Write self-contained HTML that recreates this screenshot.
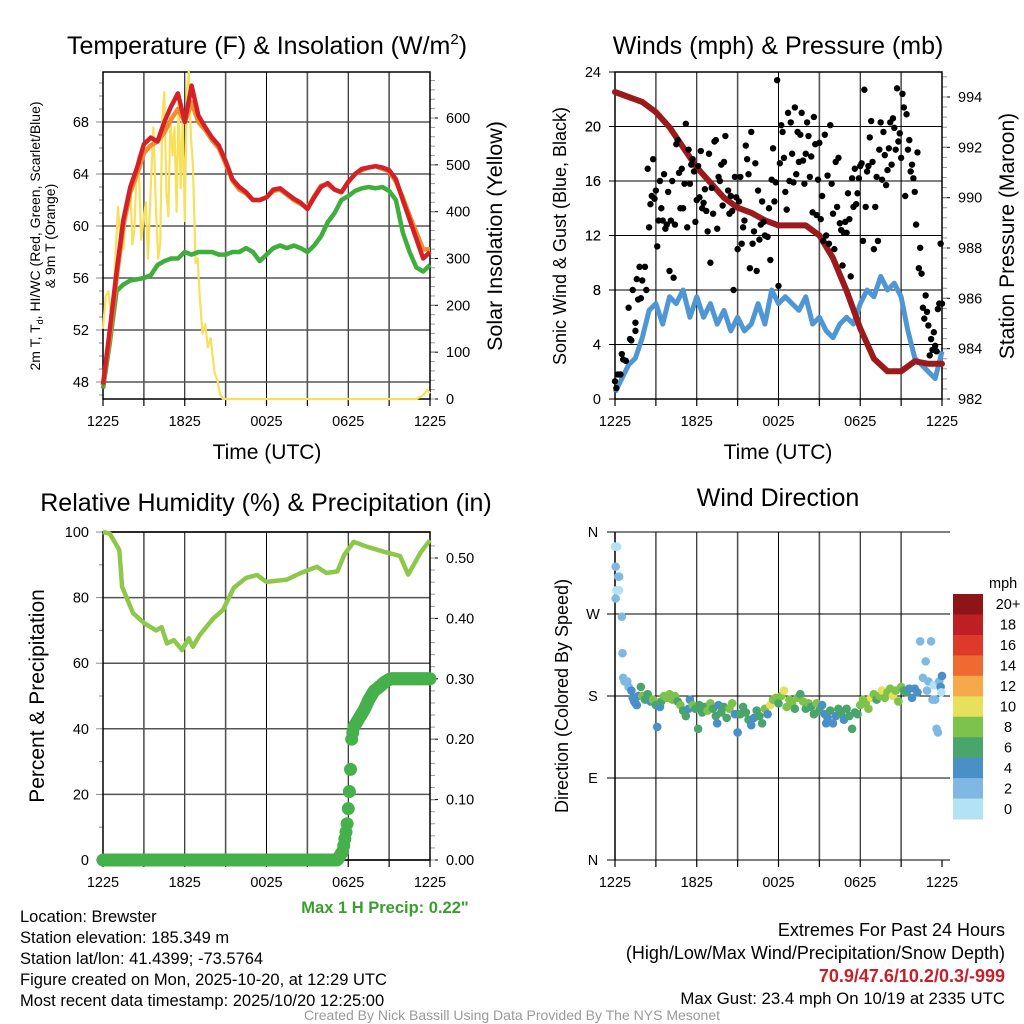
<!DOCTYPE html>
<html><head><meta charset="utf-8">
<style>
html,body{margin:0;padding:0;background:#fff;}
svg{display:block;font-family:"Liberation Sans",sans-serif;}
</style></head>
<body>
<svg id="c" width="1024" height="1024" viewBox="0 0 1024 1024" xmlns="http://www.w3.org/2000/svg">
<rect width="1024" height="1024" fill="#fff"/>
<text x="267" y="54" font-size="25" text-anchor="middle">Temperature (F) &amp; Insolation (W/m<tspan font-size="15" dy="-10">2</tspan><tspan dy="10">)</tspan></text>
<text x="778" y="54" font-size="25" text-anchor="middle">Winds (mph) &amp; Pressure (mb)</text>
<text x="266" y="511" font-size="25" text-anchor="middle">Relative Humidity (%) &amp; Precipitation (in)</text>
<text x="778" y="506" font-size="25" text-anchor="middle">Wind Direction</text>
<text x="267" y="459" font-size="21" text-anchor="middle">Time (UTC)</text>
<text x="778" y="459" font-size="21" text-anchor="middle">Time (UTC)</text>
<text transform="translate(40,236) rotate(-90)" font-size="14" text-anchor="middle">2m T, T<tspan font-size="9" dy="3">d</tspan><tspan dy="-3">, HI/WC (Red, Green, Scarlet/Blue)</tspan></text>
<text transform="translate(55,236) rotate(-90)" font-size="14" text-anchor="middle">&amp; 9m T (Orange)</text>
<text transform="translate(502,236) rotate(-90)" font-size="21.5" text-anchor="middle">Solar Insolation (Yellow)</text>
<text transform="translate(566,236) rotate(-90)" font-size="18" text-anchor="middle">Sonic Wind &amp; Gust (Blue, Black)</text>
<text transform="translate(1014,236) rotate(-90)" font-size="21" text-anchor="middle">Station Pressure (Maroon)</text>
<text transform="translate(44,696) rotate(-90)" font-size="21" text-anchor="middle">Percent &amp; Precipitation</text>
<text transform="translate(568,696) rotate(-90)" font-size="18" text-anchor="middle">Direction (Colored By Speed)</text>
<text x="385" y="913" font-size="16.5" font-weight="bold" fill="#3a9e2e" text-anchor="middle">Max 1 H Precip: 0.22"</text>
<g font-size="16.5">
<text x="20" y="922">Location: Brewster</text>
<text x="20" y="943">Station elevation: 185.349 m</text>
<text x="20" y="964">Station lat/lon: 41.4399; -73.5764</text>
<text x="20" y="985">Figure created on Mon, 2025-10-20, at 12:29 UTC</text>
<text x="20" y="1006">Most recent data timestamp: 2025/10/20 12:25:00</text>
</g>
<g font-size="18" text-anchor="end">
<text x="1005" y="936">Extremes For Past 24 Hours</text>
<text x="1005" y="959">(High/Low/Max Wind/Precipitation/Snow Depth)</text>
<text x="1005" y="982" fill="#c8202a" font-weight="bold">70.9/47.6/10.2/0.3/-999</text>
<text x="1005" y="1004" font-size="16.8">Max Gust: 23.4 mph On 10/19 at 2335 UTC</text>
</g>
<text x="512" y="1020" font-size="14" fill="#999" text-anchor="middle">Created By Nick Bassill Using Data Provided By The NYS Mesonet</text>
</svg>
<script>
// ---------- DATA ----------
const xTickLabels=["1225","1825","0025","0625","1225"];
const hourTimes=[0,0.5,1,1.5,2,2.5,3,3.5,4,4.5,5,5.5,6,6.5,7,7.5,8,8.5,9,9.5,10,10.5,11,11.5,12,12.5,13,13.5,14,14.5,15,15.5,16,16.5,17,17.5,18,18.5,19,19.5,20,20.5,21,21.5,22,22.5,23,23.5,24];
const temp2m=[47.8,52,56.5,60.5,63,64.5,66.3,66.8,66.5,68,69.2,70.2,68,70.8,68.5,67.6,66.8,66.2,65,63.6,63,62.6,62,62,62.2,62.8,62.9,62.5,62.1,61.8,61.3,62.2,63,63.3,62.8,62.6,63.4,64,64.4,64.5,64.6,64.5,64.3,63.6,62,60.5,59,57.5,58];
const temp9m=[47.8,51.5,56,60,62.6,64,65.6,66.2,66.5,67.2,68.2,69,68,69.5,68,67.4,66.6,66,64.8,63.5,62.8,62.5,62,62,62.2,62.7,62.8,62.4,62,61.7,61.4,62.3,63.1,63.2,62.8,62.6,63.4,64,64.3,64.5,64.6,64.4,64.2,63.4,62.2,60.8,59.5,58.2,58.2];
const dewpt=[47.5,51,55,55.5,55.8,55.9,56,56.2,57,57.3,57.5,57.5,58,57.8,58,58,58,57.8,57.8,58,58,58.3,58,57.3,57.8,58.3,58.5,58.3,58.5,58.3,58,58.5,59.2,60.3,61,62,62.3,62.7,62.9,63,62.9,63,62.7,62,59.5,58,56.8,56.5,57];
const insolTimes=[0,0.2,0.4,0.6,0.75,0.9,1.1,1.3,1.5,1.7,2,2.15,2.3,2.45,2.6,2.8,3,3.15,3.3,3.5,3.7,3.9,4.05,4.2,4.35,4.5,4.65,4.8,4.95,5.1,5.25,5.4,5.55,5.7,5.85,6,6.15,6.3,6.45,6.6,6.8,6.95,7.1,7.3,7.5,7.7,7.9,8.05,8.2,8.4,8.6,8.8,9,12,18,22.5,23,23.5,23.8,24];
const insolVals=[150,220,230,170,190,300,410,330,320,420,460,330,360,480,520,340,390,420,300,450,580,400,300,330,600,655,440,390,600,520,580,400,640,450,600,380,660,700,560,500,290,300,220,140,160,110,130,90,55,40,10,0,0,0,0,0,0,8,20,12];
const windTimes=hourTimes;
const windSpd=[0.5,1.5,2.5,3,4.5,6.5,7,5.5,7.5,7,8,6,7.5,6,7,5.5,6.5,5,6,5,5.5,7,5.5,8,7,7.5,7,6.5,7.5,5.5,6,5,4.5,5.5,6,5.5,7,8,7.5,9,8,8.5,7.5,5,3,2.5,2,1.5,3.5];
const presTimes=[0,1,2,3,4,5,6,7,8,9,10,11,12,13,14,15,16,17,18,19,20,21,22,23,24];
const pressure=[994.2,994.0,993.8,993.4,992.8,992.0,991.2,990.6,990.0,989.6,989.4,989.1,988.9,988.9,988.9,988.5,987.6,986.3,984.8,983.6,983.1,983.1,983.5,983.4,983.4];
const gustTimes=[0,0.1,0.2,0.4,0.5,0.6,0.8,1.0,1.1,1.2,1.3,1.5,1.5,1.6,1.7,1.8,1.9,2.0,2.2,2.3,2.4,2.5,2.6,2.7,2.8,2.9,3.0,3.1,3.2,3.3,3.4,3.5,3.6,3.7,3.8,3.9,4.0,4.1,4.2,4.3,4.4,4.5,4.6,4.7,4.8,4.9,5.0,5.1,5.2,5.3,5.4,5.5,5.6,5.7,5.8,5.9,6.0,6.1,6.2,6.3,6.4,6.5,6.6,6.7,6.8,6.9,7.0,7.1,7.2,7.3,7.4,7.5,7.6,7.7,7.8,7.9,8.0,8.1,8.3,8.4,8.5,8.6,8.7,8.8,8.9,9.0,9.1,9.2,9.3,9.4,9.5,9.6,9.7,9.8,9.9,10.0,10.1,10.2,10.3,10.4,10.5,10.6,10.7,10.8,10.9,11.0,11.2,11.3,11.4,11.5,11.6,11.7,11.8,11.9,12.0,12.1,12.2,12.3,12.4,12.5,12.6,12.7,12.8,12.9,13.0,13.1,13.2,13.3,13.4,13.5,13.6,13.7,13.8,13.9,14.0,14.1,14.2,14.3,14.4,14.5,14.6,14.7,14.8,14.9,15.0,15.1,15.2,15.3,15.4,15.5,15.6,15.7,15.8,15.9,16.0,16.1,16.2,16.3,16.4,16.5,16.6,16.7,16.8,16.9,17.0,17.1,17.2,17.3,17.4,17.5,17.6,17.7,17.8,17.9,18.0,18.1,18.2,18.3,18.4,18.5,18.6,18.7,18.8,18.9,19.0,19.1,19.2,19.3,19.4,19.5,19.6,19.7,19.8,19.9,20.0,20.1,20.2,20.3,20.4,20.5,20.6,20.7,20.8,20.9,21.0,21.1,21.2,21.3,21.4,21.5,21.6,21.7,21.8,21.9,22.0,22.1,22.2,22.3,22.4,22.5,22.6,22.7,22.8,22.9,23.0,23.1,23.2,23.3,23.4,23.5,23.6,23.7,23.8,23.9,24.0];
const gustVals=[1.3,0.8,1.8,1.8,3.3,2.9,2.8,6.7,4.4,4.3,8.0,5.6,5.0,8.8,7.3,9.7,7.4,8.7,9.7,8.0,16.9,12.6,14.3,14.9,17.6,14.7,15.3,11.2,13.1,16.0,14.0,13.1,16.5,12.5,12.8,15.2,9.4,13.1,16.0,8.9,12.8,18.7,19.0,16.6,14.0,16.9,14.0,15.8,20.2,12.6,18.3,15.8,17.2,17.6,16.7,13.0,14.6,17.1,14.8,18.2,14.0,14.4,15.4,13.8,12.3,18.0,10.0,15.5,13.6,18.9,19.0,12.5,16.3,16.0,17.2,14.2,17.4,19.3,15.3,13.6,14.9,13.8,8.0,16.3,14.8,11.0,14.5,16.3,11.4,12.6,13.1,18.6,17.6,16.5,9.6,19.6,11.4,12.3,17.3,9.4,15.3,11.7,12.8,14.5,13.0,12.0,11.9,14.0,10.2,16.1,18.4,14.5,15.9,23.4,8.3,17.3,20.1,19.6,17.7,15.2,13.9,21.0,16.0,20.3,18.0,15.9,21.4,16.5,19.6,17.4,19.4,21.0,17.5,15.8,18.0,20.3,19.3,16.3,17.8,13.7,20.7,18.7,13.5,16.1,18.8,13.2,14.9,11.6,19.4,12.0,16.4,11.4,20.1,15.8,13.6,11.0,17.4,14.1,17.7,12.9,12.4,9.8,12.2,13.0,12.2,15.1,13.2,9.0,16.2,14.1,16.9,14.3,15.1,16.2,17.1,17.3,11.6,22.7,14.1,16.7,17.1,19.2,20.4,17.4,11.0,14.1,16.3,11.6,18.3,20.3,16.1,19.6,17.9,15.7,16.8,18.4,20.3,17.2,20.6,19.9,18.3,22.8,18.9,19.5,17.7,22.4,21.4,14.9,20.9,18.3,19.0,16.7,17.2,16.2,15.2,12.8,18.1,9.6,11.1,9.2,6.7,5.9,7.6,6.4,5.4,3.2,4.4,3.6,4.9,3.9,3.5,6.6,7.0,11.4,7.0];
const rhTimes=[0,0.5,1.2,1.4,2.2,3,3.9,4.3,4.7,5.2,5.8,6.3,6.6,7.1,8.1,8.8,9.6,10.5,11.3,12,13.5,14.5,15.7,16.4,17.2,17.7,18.4,19.4,20.6,21.8,22.4,23.3,23.9,24];
const rhVals=[100,99.5,94.5,83.3,75.3,72.3,70,71,66,67,64,67.6,65,68.6,73.7,76.2,83,86,86.9,84.8,85.5,87.5,89.4,87.5,88,93,97,95.5,94,92.7,87,93.7,97,96.5];
const precipTimes=[0,17.2,17.6,17.9,18.05,18.15,18.25,18.4,18.8,19.2,19.5,19.9,20.3,20.7,21.1,24];
const precipVals=[0,0,0.015,0.055,0.1,0.14,0.2,0.22,0.235,0.25,0.265,0.28,0.287,0.295,0.30,0.30];
const dirTimes=[0.0,0.15,0.05,0.25,0.3,0.1,0.3,0.05,0.5,0.55,0.6,0.7,0.9,1.0,1.2,1.3,1.5,1.6,1.4,1.7,1.9,2.0,2.2,2.4,2.6,2.8,3.0,3.1,3.3,3.4,3.6,3.8,4.0,4.2,4.4,4.6,4.8,5.0,5.2,5.4,5.5,5.7,5.9,6.1,6.2,6.4,6.6,6.8,7.0,7.2,7.4,7.5,7.6,7.8,8.0,8.2,8.4,8.6,8.8,9.0,9.2,9.4,9.6,9.8,10.0,10.2,10.4,10.6,10.8,11.0,11.2,11.4,11.6,11.8,12.0,12.2,12.4,12.6,12.8,13.0,13.2,13.4,13.6,13.8,14.0,14.2,14.4,14.6,14.8,15.0,15.2,15.4,15.5,15.6,15.8,16.0,16.2,16.4,16.6,16.8,17.0,17.2,17.4,17.6,17.8,18.0,18.2,18.4,18.6,18.8,19.0,19.2,19.4,19.6,19.8,20.0,20.2,20.4,20.6,20.8,21.0,21.2,21.4,21.6,21.8,22.0,22.2,22.4,22.6,22.8,22.9,23.0,23.2,23.3,23.4,23.5,23.6,23.7,23.8,23.9,24.0,23.95];
const dirDeg=[344,344,322,311,311,296,296,287,267,227,200,196,196,190,186,178,172,170,174,180,190,180,176,182,174,176,170,146,168,174,180,178,182,176,180,174,170,164,158,166,176,170,166,144,170,162,168,164,172,166,158,150,170,162,168,156,166,172,160,140,160,168,162,154,148,156,164,158,150,166,160,170,176,178,172,180,186,168,176,172,166,178,182,174,166,172,168,160,172,164,170,160,150,156,164,150,158,166,160,154,166,158,144,162,160,170,176,172,166,178,182,176,180,186,178,184,188,180,186,174,190,186,184,188,178,188,184,240,200,218,186,196,240,176,192,176,144,140,196,190,202,184];
const dirSpd=[1,1,2.5,3,3,1,1,2.5,3,3,3,3,2.5,2,5,4,5,5,4.5,4,7,8.5,7,6.5,5,8,7,4.5,4,6,8,9,8,8.5,8,7,8,6,6,5,5.5,8.5,7,6,7,7,7,8.5,8.5,6.5,6,4.5,5,7,7,6,8,8,5,4.5,7,6,7,6,4.5,5,7,7,6.5,8,5,10.5,8,8.5,7.5,9,10.5,8,8,8,7,8,6,8,7,8.5,7,6,8,7,4.5,5,4.5,5,6,4.5,5,6.5,7,5,7,6,6.5,7,7,8,8,9,8,10,8.5,7,8,11,8,8.5,9,10.5,9,8,8,6.5,7,4.5,5,4.5,4.5,3,3,3,2.5,2.5,3,3,1.5,3,3,3,2,4.5,4.5,1];
const speedBinLabels=["20+","18","16","14","12","10","8","6","4","2","0"];
const speedBinColors=["#8f1418","#be1e24","#dd3a2c","#ef6a30","#f5a94a","#e6e05a","#7dc24a","#4aa56c","#4a8fc7","#7fb9e3","#b3e2f5"];
const tempTicks=[48,52,56,60,64,68];
const insolTicks=[0,100,200,300,400,500,600];
const windTicks=[0,4,8,12,16,20,24];
const presTicks=[982,984,986,988,990,992,994];
const rhTicks=[0,20,40,60,80,100];
const precipTicks=["0.00","0.10","0.20","0.30","0.40","0.50"];
const dirTickLabels=["N","W","S","E","N"];
const dirTickVals=[360,270,180,90,0];

// ---------- HELPERS ----------
const NS="http://www.w3.org/2000/svg";
const svg=document.getElementById('c');
function mk(tag,attrs,parent){const e=document.createElementNS(NS,tag);for(const k in attrs)e.setAttribute(k,attrs[k]);(parent||svg).appendChild(e);return e;}
function lin(d0,d1,r0,r1){return v=>r0+(v-d0)*(r1-r0)/(d1-d0);}
function pathD(xs,ys,fx,fy){return xs.map((t,i)=>(i?'L':'M')+fx(t).toFixed(1)+','+fy(ys[i]).toFixed(1)).join(' ');}

function panel(name,x0,x1,y0,y1){
  const g=mk('g',{});
  
  
  const fx=lin(0,24,x0,x1);
  for(let h=3;h<24;h+=3){
    const l=mk('line',{x1:fx(h),x2:fx(h),y1:y0,y2:y1,stroke:h%6===0?'#000':'#555','stroke-width':h%6===0?1:1.6},g);
    
    
  }
  for(let h=0;h<=24;h+=3){mk('line',{x1:fx(h),x2:fx(h),y1:y1,y2:y1+7,stroke:'#000','stroke-width':1.2},g);}
  xTickLabels.forEach((s,i)=>{
    const t=mk('text',{x:fx(i*6),y:y1+27,'font-size':14.5,'text-anchor':'middle'},g);
    
    
    t.textContent=s;
  });
  return {g,fx};
}
function hgrid(g,vals,fy,x0,x1,side,labels,dark){
  vals.forEach((v,i)=>{
    const y=fy(v);
    mk('line',{x1:x0,x2:x1,y1:y,y2:y,stroke:dark?'#000':'#555','stroke-width':dark?1:1.5},g);
    const t=mk('text',{x:side==='l'?x0-14:x1+16,y:y+5,'font-size':14.5,'text-anchor':side==='l'?'end':'start'},g);
    
    
    t.textContent=labels?labels[i]:v;
  });
}
function frame(g,x0,x1,y0,y1){mk('rect',{x:x0,y:y0,width:x1-x0,height:y1-y0,fill:'none',stroke:'#000','stroke-width':1.5},g);}

// ---------- PANEL 1 ----------
(function(){
  const x0=103,x1=430,y0=72,y1=399;
  const {g,fx}=panel('temperature',x0,x1,y0,y1);
  const fy=lin(48,68,382,122);
  const fi=lin(0,600,399,118);
  hgrid(g,tempTicks,fy,x0,x1,'l',null,false);
  insolTicks.forEach(v=>{const y=fi(v);mk('line',{x1:x1,x2:x1+8,y1:y,y2:y,stroke:'#000'},g);const t=mk('text',{x:x1+16,y:y+5,'font-size':14.5},g);t.textContent=v;});
  for(let v=0;v<=700;v+=20){const y=fi(v);if(y<y0)break;mk('line',{x1:x1,x2:x1+5,y1:y,y2:y,stroke:'#999'},g);}
  for(let v=47;v<=72;v++){const y=fy(v);if(y<y0||y>y1)continue;mk('line',{x1:x0,x2:x0-(v%4===0?7:4),y1:y,y2:y,stroke:'#888'},g);}
  const yl=mk('path',{d:pathD(insolTimes,insolVals,fx,fi),fill:'none',stroke:'#f7e05a','stroke-width':2.2,'stroke-linejoin':'round'});
  
  const gl=mk('path',{d:pathD(hourTimes,dewpt,fx,fy),fill:'none',stroke:'#3fae3c','stroke-width':4.5,'stroke-linejoin':'round'});
  
  const ol=mk('path',{d:pathD(hourTimes,temp9m,fx,fy),fill:'none',stroke:'#f28a2e','stroke-width':4.5,'stroke-linejoin':'round'});
  
  const rl=mk('path',{d:pathD(hourTimes,temp2m,fx,fy),fill:'none',stroke:'#d42127','stroke-width':4.5,'stroke-linejoin':'round'});
  
  frame(g,x0,x1,y0,y1);
})();

// ---------- PANEL 2 ----------
(function(){
  const x0=615,x1=942,y0=72,y1=399;
  const {g,fx}=panel('winds',x0,x1,y0,y1);
  const fy=lin(0,24,399,72);
  const fp=lin(982,994,399,97);
  hgrid(g,windTicks.slice(1,6),fy,x0,x1,'l',null,true);
  windTicks.forEach(v=>{const t=mk('text',{x:x0-14,y:fy(v)+5,'font-size':14.5,'text-anchor':'end'},g);t.textContent=v;mk('line',{x1:x0,x2:x0-6,y1:fy(v),y2:fy(v),stroke:'#000'},g);});
  presTicks.forEach(v=>{const y=fp(v);mk('line',{x1:x1,x2:x1+8,y1:y,y2:y,stroke:'#000'},g);const t=mk('text',{x:x1+16,y:y+5,'font-size':14.5},g);t.textContent=v;});
  for(let v=982;v<=995;v+=0.4){const y=fp(v);if(y<y0)break;mk('line',{x1:x1,x2:x1+5,y1:y,y2:y,stroke:'#999'},g);}
  const bl=mk('path',{d:pathD(windTimes,windSpd,fx,fy),fill:'none',stroke:'#4f97d4','stroke-width':5,'stroke-linejoin':'round'});
  
  const pl=mk('path',{d:pathD(presTimes,pressure,fx,fp),fill:'none',stroke:'#9b1a1c','stroke-width':6,'stroke-linejoin':'round','stroke-linecap':'round'});
  
  gustTimes.forEach((t,i)=>{
    const c=mk('circle',{cx:fx(t),cy:fy(gustVals[i]),r:3.2,fill:'#000'});
    
    
  });
  frame(g,x0,x1,y0,y1);
})();

// ---------- PANEL 3 ----------
(function(){
  const x0=103,x1=430,y0=532,y1=860;
  const {g,fx}=panel('humidity',x0,x1,y0,y1);
  const fy=lin(0,100,860,532);
  const fp=lin(0,0.5,860,558);
  hgrid(g,rhTicks,fy,x0,x1,'l',null,false);
  precipTicks.forEach(v=>{const y=fp(+v);mk('line',{x1:x1,x2:x1+8,y1:y,y2:y,stroke:'#000'},g);const t=mk('text',{x:x1+16,y:y+5,'font-size':14.5},g);t.textContent=v;});
  for(let v=0;v<=0.54;v+=0.02){const y=fp(v);mk('line',{x1:x1,x2:x1+5,y1:y,y2:y,stroke:'#999'},g);}
  for(let v=0;v<=100;v+=10){mk('line',{x1:x0,x2:x0-(v%20===0?7:4),y1:fy(v),y2:fy(v),stroke:'#888'},g);}
  const rl=mk('path',{d:pathD(rhTimes,rhVals,fx,fy),fill:'none',stroke:'#8dc84a','stroke-width':4.5,'stroke-linejoin':'round'});
  
  for(let t=0;t<=24;t+=1/12){
    let j=0;while(j<precipTimes.length-2&&precipTimes[j+1]<t)j++;
    const a=precipTimes[j],b=precipTimes[j+1];
    const v=precipVals[j]+(precipVals[j+1]-precipVals[j])*Math.min(1,Math.max(0,(t-a)/(b-a)));
    const c=mk('circle',{cx:fx(t),cy:fp(v),r:6.5,fill:'#46b04a'});
    
    
  }
  frame(g,x0,x1,y0,y1);
})();

// ---------- PANEL 4 ----------
(function(){
  const x0=615,x1=942,y0=532,y1=860;
  const {g,fx}=panel('wind-direction',x0,x1,y0,y1);
  const fy=lin(0,360,860,532);
  dirTickVals.forEach((v,i)=>{const y=fy(v);mk('line',{x1:x0-8,x2:x1+8,y1:y,y2:y,stroke:'#000','stroke-width':1},g);const t=mk('text',{x:x0-22,y:y+5,'font-size':14.5,'text-anchor':'middle'},g);t.textContent=dirTickLabels[i];});
  dirTimes.forEach((t,i)=>{
    const s=dirSpd[i];let bin=Math.min(10,Math.floor(s/2));
    const c=mk('circle',{cx:fx(t),cy:fy(dirDeg[i]),r:4.3,fill:speedBinColors[10-bin]});
    
    
  });
  mk('line',{x1:x0,x2:x0,y1:y0,y2:y1,stroke:'#000','stroke-width':1.5},g);
  const cb=mk('g',{});
  
  
  const h=225/11;
  const u=mk('text',{x:989,y:588,'font-size':14.5,'text-anchor':'start'},cb);u.textContent='mph';
  speedBinColors.forEach((col,i)=>{
    const r=mk('rect',{x:953,y:594+i*h,width:30,height:h+0.5,fill:col},cb);
    
    
    const t=mk('text',{x:1008,y:594+i*h+h/2+5,'font-size':14.5,'text-anchor':'middle'},cb);
    
    
    t.textContent=speedBinLabels[i];
  });
})();
</script>
</body></html>
